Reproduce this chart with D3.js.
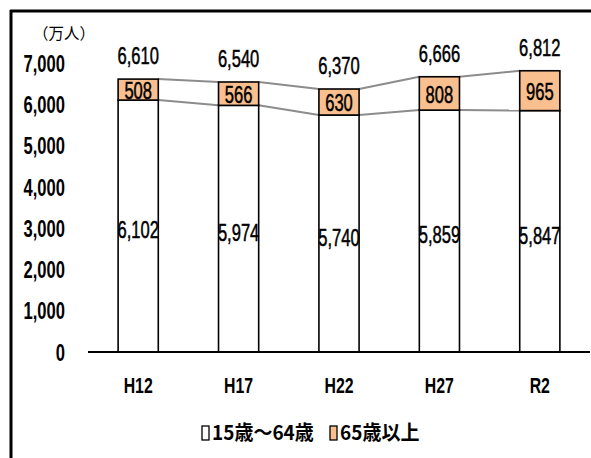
<!DOCTYPE html>
<html>
<head>
<meta charset="utf-8">
<script src="https://cdn.jsdelivr.net/npm/d3@7/dist/d3.min.js"></script>
<style>
  html, body { margin: 0; padding: 0; background: #fff; }
  svg { display: block; }
  .num { font-family: "Liberation Sans", Arial, "Noto Sans CJK JP", sans-serif; }
  .jp { font-family: "Noto Sans CJK JP", sans-serif; }
</style>
</head>
<body>
<svg id="chart" width="591" height="458"></svg>
<script>
// Population by age group (10,000 persons)
const years = ["H12", "H17", "H22", "H27", "R2"];
const working = [6102, 5974, 5740, 5859, 5847];   // 15歳～64歳
const elderly = [508, 566, 630, 808, 965];        // 65歳以上
const totals = [6610, 6540, 6370, 6666, 6812];
const yTicks = [0, 1000, 2000, 3000, 4000, 5000, 6000, 7000];
const seriesNames = ["15歳～64歳", "65歳以上"];
const seriesColors = ["#ffffff", "#f9bf8f"];

const svg = d3.select("#chart");
const W = 591, H = 458;
const NARROW = 0.72; // horizontal squeeze for the narrow numeric face

// outer frame (left and top edges)
svg.append("line").attr("x1", 11).attr("x2", 11).attr("y1", 10).attr("y2", H)
  .attr("stroke", "#000").attr("stroke-width", 3);
svg.append("line").attr("x1", 10).attr("x2", W).attr("y1", 11).attr("y2", 11)
  .attr("stroke", "#000").attr("stroke-width", 3);

const x = d3.scaleBand().domain(years).range([88, 590]).paddingInner(0.6).paddingOuter(0.3);
const y = d3.scaleLinear().domain([0, 7000]).range([352, 63]);

const fmt = d3.format(",");

// y axis labels
const yAxis = svg.append("g").attr("transform", "translate(65,0)")
  .call(d3.axisLeft(y).tickValues(yTicks).tickFormat(fmt).tickSize(0).tickPadding(0));
yAxis.select(".domain").remove();
yAxis.selectAll("text").attr("class", "num")
  .attr("x", 0).attr("font-size", 23).attr("font-weight", "bold").attr("fill", "#000")
  .attr("dy", "0.36em").attr("transform", `scale(${NARROW},1)`);

// unit
svg.append("text").attr("class", "jp").attr("x", 33).attr("y", 39)
  .attr("font-size", 15.5).attr("fill", "#000").text("（万人）");

// stacked data
const rows = years.map((yr, i) => ({ year: yr, working: working[i], elderly: elderly[i], total: totals[i] }));
const stack = d3.stack().keys(["working", "elderly"])(rows);

// series connector lines between bars
const linesG = svg.append("g");
stack.forEach(layer => {
  for (let i = 0; i < years.length - 1; i++) {
    linesG.append("line")
      .attr("x1", x(years[i]) + x.bandwidth())
      .attr("y1", y(layer[i][1]))
      .attr("x2", x(years[i + 1]))
      .attr("y2", y(layer[i + 1][1]))
      .attr("stroke", "#8c8c8c").attr("stroke-width", 2);
  }
});

// bars
stack.forEach((layer, k) => {
  svg.append("g").selectAll("rect").data(layer).join("rect")
    .attr("x", d => x(d.data.year))
    .attr("y", d => y(d[1]))
    .attr("width", x.bandwidth())
    .attr("height", d => y(d[0]) - y(d[1]))
    .attr("fill", seriesColors[k])
    .attr("stroke", "#000").attr("stroke-width", 1.6);
});

// x axis baseline and labels
svg.append("line").attr("x1", 88).attr("x2", 590).attr("y1", y(0)).attr("y2", y(0))
  .attr("stroke", "#000").attr("stroke-width", 2);
const xAxis = svg.append("g").attr("transform", `translate(0,${y(0)})`)
  .call(d3.axisBottom(x).tickSize(0).tickPadding(0));
xAxis.select(".domain").remove();
xAxis.selectAll("text").attr("class", "num")
  .attr("y", 41).attr("dy", 0)
  .attr("font-size", 22).attr("font-weight", "bold").attr("fill", "#000")
  .attr("transform", `scale(${NARROW},1)`);

// value labels, drawn with a narrow squeeze around each anchor point
const labelG = svg.append("g").attr("class", "num").attr("font-size", 23)
  .attr("fill", "#000").attr("stroke", "#000").attr("stroke-width", 0.5)
  .attr("text-anchor", "middle");
function label(cx, cy, txt) {
  labelG.append("text")
    .attr("transform", `translate(${cx},${cy}) scale(${NARROW},1)`)
    .attr("dy", "0.36em").text(txt);
}
stack[0].forEach(d => label(x(d.data.year) + x.bandwidth() / 2, y(d[1] / 2) + 4, fmt(d.data.working)));
stack[1].forEach(d => label(x(d.data.year) + x.bandwidth() / 2, y((d[0] + d[1]) / 2) + 1, fmt(d.data.elderly)));
rows.forEach(d => label(x(d.year) + x.bandwidth() / 2, y(d.total) - 23, fmt(d.total)));

// legend
const legend = svg.append("g").attr("transform", "translate(202,433)");
const legendX = [0, 128];
seriesNames.forEach((name, i) => {
  const g = legend.append("g").attr("transform", `translate(${legendX[i]},0)`);
  g.append("rect").attr("x", 0).attr("y", -7).attr("width", 7).attr("height", 14)
    .attr("fill", seriesColors[i]).attr("stroke", "#000").attr("stroke-width", 1.3);
  g.append("text").attr("class", "jp").attr("transform", "translate(10,0) scale(0.95,1)")
    .attr("dy", "0.36em")
    .attr("font-size", 20).attr("font-weight", "bold").attr("fill", "#000").text(name);
});
</script>
</body>
</html>
